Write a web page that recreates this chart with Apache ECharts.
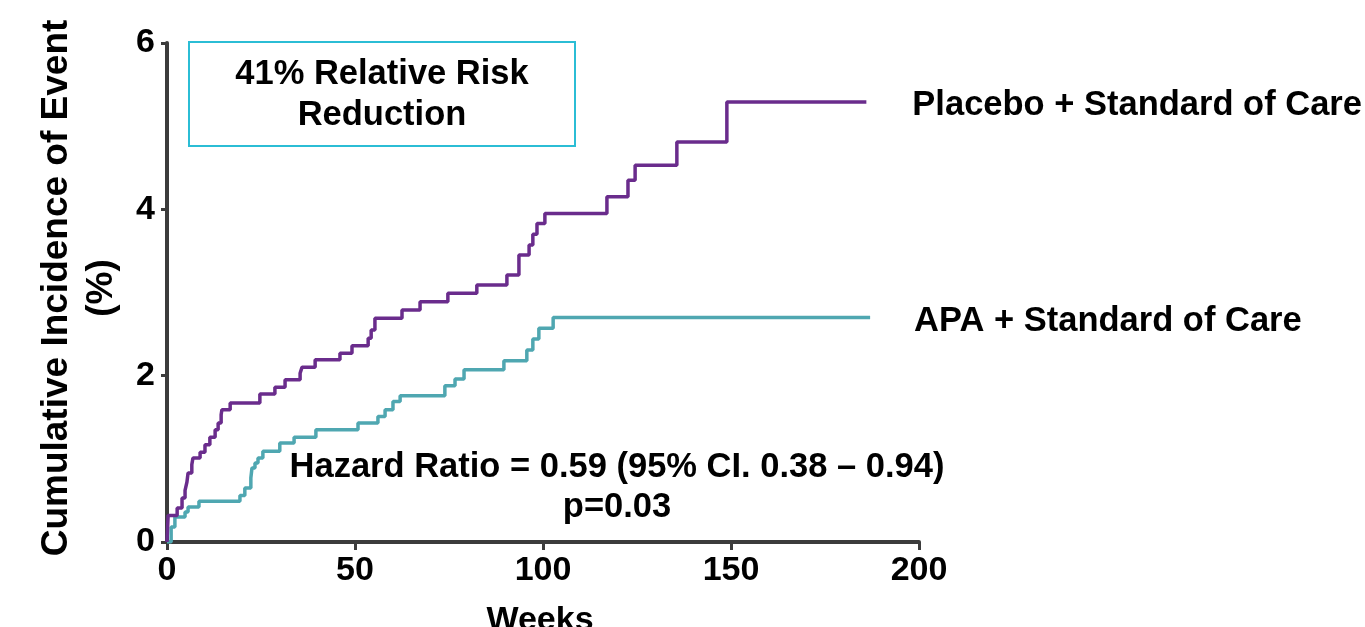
<!DOCTYPE html>
<html>
<head>
<meta charset="utf-8">
<script src="https://cdn.jsdelivr.net/npm/echarts@6/dist/echarts.min.js"></script>
<style>html,body{margin:0;padding:0;background:#fff}#c{width:1365px;height:627px}</style>
</head>
<body>
<div id="c"></div>
<script>
// Kaplan-Meier style step data: [week, cumulative incidence %]
const placeboName = 'Placebo + Standard of Care';
const apaName = 'APA + Standard of Care';
const placeboData = [[0,0],[0.3,0.32],[2.7,0.41],[4.0,0.53],[4.8,0.62],[5.3,0.72],[5.6,0.83],[6.6,0.93],[6.9,1.01],[8.8,1.08],[10.1,1.17],[11.4,1.26],[12.8,1.35],[13.6,1.43],[14.4,1.53],[14.6,1.59],[16.8,1.67],[24.7,1.78],[28.7,1.86],[31.4,1.95],[35.4,2.03],[35.9,2.10],[39.4,2.19],[46,2.27],[49.2,2.36],[53.5,2.45],[54.3,2.55],[55.3,2.69],[62.5,2.79],[67.3,2.89],[74.7,2.99],[82.4,3.09],[90.4,3.21],[93.6,3.45],[96.3,3.57],[97.3,3.70],[98.4,3.83],[100.5,3.95],[117,4.15],[122.6,4.35],[124.5,4.53],[135.6,4.81],[148.9,5.29],[186,5.29]];
const apaData = [[0,0],[1.1,0.18],[2.1,0.30],[4.8,0.36],[5.6,0.42],[8.5,0.49],[19.4,0.56],[20.7,0.65],[22.3,0.77],[22.6,0.89],[23.4,0.95],[24.2,1.01],[25.5,1.09],[30,1.19],[33.8,1.26],[39.6,1.35],[50.8,1.43],[56.1,1.51],[58,1.59],[60.1,1.69],[62,1.76],[73.9,1.88],[76.6,1.96],[79,2.07],[89.6,2.18],[95.7,2.31],[97.3,2.44],[98.9,2.57],[102.7,2.70],[187,2.70]];
const xTicks = {min:0, max:200, interval:50};
const yTicks = {min:0, max:6, interval:2};
const xTitle = 'Weeks';
const yTitle = 'Cumulative Incidence of Event\n(%)';
const boxText = '41% Relative Risk\nReduction';
const hrText = 'Hazard Ratio = 0.59 (95% CI. 0.38 \u2013 0.94)\np=0.03';

const FONT = '"Liberation Sans", Arial, sans-serif';
const AX = '#3c3c3c';
const chart = echarts.init(document.getElementById('c'));
chart.setOption({
  animation:false,
  backgroundColor:'#fff',
  grid:{left:167, right:446, top:43, bottom:85, containLabel:false},
  xAxis:{type:'value', min:xTicks.min, max:xTicks.max, interval:xTicks.interval,
    axisLine:{show:true, onZero:false, lineStyle:{color:AX, width:4}},
    axisTick:{show:true, length:8, lineStyle:{color:AX, width:3}},
    splitLine:{show:false},
    axisLabel:{color:'#000', fontSize:34, fontWeight:'bold', fontFamily:FONT, margin:12}
  },
  yAxis:{type:'value', min:yTicks.min, max:yTicks.max, interval:yTicks.interval,
    axisLine:{show:true, onZero:false, lineStyle:{color:AX, width:4}},
    axisTick:{show:true, length:6, lineStyle:{color:AX, width:3}},
    splitLine:{show:false},
    axisLabel:{color:'#000', fontSize:34, fontWeight:'bold', fontFamily:FONT, margin:12}
  },
  series:[
    {name:placeboName, type:'line', step:'end', data:placeboData, showSymbol:false, symbol:'none',
      lineStyle:{color:'#6a2c8c', width:3.5}, z:3,
      endLabel:{show:true, formatter:'{a}', distance:46, offset:[0,3], color:'#000', fontSize:34.5, fontWeight:'bold', fontFamily:FONT}},
    {name:apaName, type:'line', step:'end', data:apaData, showSymbol:false, symbol:'none',
      lineStyle:{color:'#4fa7b1', width:3.5}, z:2,
      endLabel:{show:true, formatter:'{a}', distance:44, offset:[0,4], color:'#000', fontSize:34.5, fontWeight:'bold', fontFamily:FONT}}
  ],
  graphic:[
    {type:'rect', shape:{x:189, y:42, width:386, height:104}, style:{fill:'none', stroke:'#2bbdd5', lineWidth:2}, z:10},
    {type:'text', x:382, y:95, style:{text:boxText, fill:'#000', font:'bold 34.5px '+FONT, align:'center', verticalAlign:'middle', lineHeight:41}, z:10},
    {type:'text', x:617, y:487, style:{text:hrText, fill:'#000', font:'bold 34.5px '+FONT, align:'center', verticalAlign:'middle', lineHeight:40}, z:10},
    {type:'text', x:540, y:621, style:{text:xTitle, fill:'#000', font:'bold 34px '+FONT, align:'center', verticalAlign:'middle'}, z:10},
    {type:'text', x:79, y:288, rotation:Math.PI/2, style:{text:yTitle, fill:'#000', font:'bold 37px '+FONT, align:'center', verticalAlign:'middle', lineHeight:45}, z:10}
  ]
});
</script>
</body>
</html>
